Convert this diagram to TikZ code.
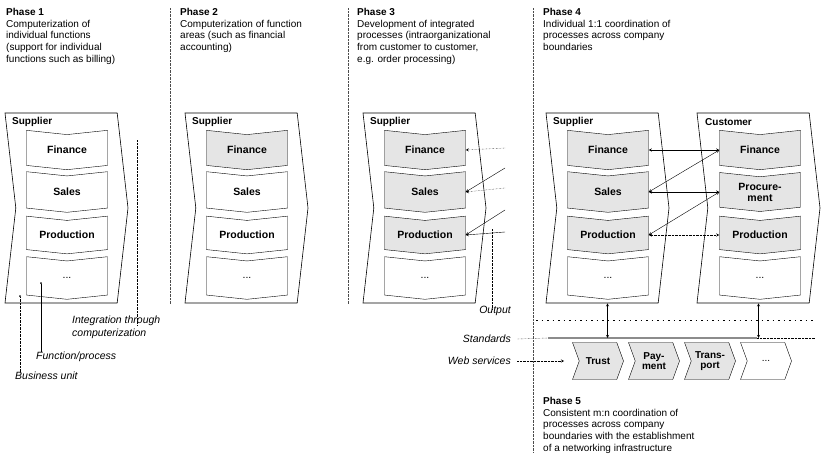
\documentclass[tikz,border=0pt]{standalone}
\usepackage{fontspec}
\setmainfont{Liberation Sans}
\usetikzlibrary{shapes.symbols,arrows}
\tikzstyle{phase}=[anchor=north west,align=left,inner sep=0pt,font=\fontsize{10}{11.7}\selectfont]
\tikzstyle{unit}=[draw,shape=signal,signal from=west,signal to=east,signal pointer angle=167,minimum width=123pt,minimum height=190pt,inner sep=0pt,line width=0.6pt]
\tikzstyle{owner}=[anchor=west,inner sep=0pt,font=\fontsize{10}{12}\selectfont\bfseries]
\tikzstyle{func}=[draw,shape=signal,signal from=north,signal to=south,signal pointer angle=168,minimum width=81pt,minimum height=35pt,inner sep=0pt,align=center,font=\fontsize{10.5}{11}\selectfont\bfseries]
\tikzstyle{service}=[draw,shape=signal,signal from=west,signal to=east,signal pointer angle=140,minimum width=51pt,minimum height=37pt,inner sep=0pt,align=center,font=\fontsize{10}{10.5}\selectfont\bfseries]
\tikzstyle{done}=[fill=black!10]
\tikzstyle{note}=[inner sep=0pt,align=left,font=\fontsize{10.5}{13}\selectfont\itshape]
\tikzstyle{tick}=[fill,shape=circle,minimum size=2pt,inner sep=0pt]
\tikzstyle{divider}=[densely dotted,black!70]

\begin{document}
\begin{tikzpicture}[x=1pt,y=-1pt,>=stealth]
\useasboundingbox (0,0) rectangle (821,466);
% phase headings
\node[phase] (Ph1) at (6,8) {\textbf{Phase 1}\\Computerization of\\individual functions\\(support for individual\\functions such as billing)};
\node[phase] (Ph2) at (180,8) {\textbf{Phase 2}\\Computerization of function\\areas (such as financial\\accounting)};
\node[phase] (Ph3) at (357,8) {\textbf{Phase 3}\\Development of integrated\\processes (intraorganizational\\from customer to customer,\\e.g. order processing)};
\node[phase] (Ph4) at (543,8) {\textbf{Phase 4}\\Individual 1:1 coordination of\\processes across company\\boundaries};
\node[phase] (Ph5) at (543,397) {\textbf{Phase 5}\\Consistent m:n coordination of\\processes across company\\boundaries with the establishment\\of a networking infrastructure};
% dividers
\coordinate (D1a) at (170,8);
\coordinate (D1b) at (170,304);
\coordinate (D2a) at (348,8);
\coordinate (D2b) at (348,304);
\coordinate (D3a) at (533,8);
\coordinate (D3b) at (533,452);
\draw[divider] (D1a) -- (D1b);
\draw[divider] (D2a) -- (D2b);
\draw[divider] (D3a) -- (D3b);
% phase 1
\node[unit] (Unit1) at (66.5,208) {};
\node[owner] (Sup1) at (12,122) {Supplier};
\node[func] (Fin1) at (67,150) {Finance};
\node[func] (Sal1) at (67,192) {Sales};
\node[func] (Pro1) at (67,235) {Production};
\node[func] (Etc1) at (67,278) {\mdseries ...};
% phase 2
\node[unit] (Unit2) at (246.5,208) {};
\node[owner] (Sup2) at (192,122) {Supplier};
\node[func, done] (Fin2) at (247,150) {Finance};
\node[func] (Sal2) at (247,192) {Sales};
\node[func] (Pro2) at (247,235) {Production};
\node[func] (Etc2) at (247,278) {\mdseries ...};
% phase 3
\node[unit] (Unit3) at (424.5,208) {};
\node[owner] (Sup3) at (370,122) {Supplier};
\node[func, done] (Fin3) at (425,150) {Finance};
\node[func, done] (Sal3) at (425,192) {Sales};
\node[func, done] (Pro3) at (425,235) {Production};
\node[func] (Etc3) at (425,278) {\mdseries ...};
% phase 4
\node[unit] (Unit4) at (607.5,208) {};
\node[owner] (Sup4) at (553,122) {Supplier};
\node[func, done] (Fin4) at (608,150) {Finance};
\node[func, done] (Sal4) at (608,192) {Sales};
\node[func, done] (Pro4) at (608,235) {Production};
\node[func] (Etc4) at (608,278) {\mdseries ...};
\node[unit] (Unit5) at (758.5,208) {};
\node[owner] (Cus5) at (705,122) {Customer};
\node[func, done] (CFin) at (760,150) {Finance};
\node[func, done] (CPcm) at (760,192) {Procure-\\ment};
\node[func, done] (CPro) at (760,235) {Production};
\node[func] (CEtc) at (760,278) {\mdseries ...};
% phase 5
\node[service, done] (Trust) at (598,361) {Trust};
\node[service, done] (Pay) at (654,361) {Pay-\\ment};
\node[service, done] (Trans) at (710,361) {Trans-\\port};
\node[service] (More) at (766,361) {\mdseries ...};
% phase 1 legend
\node[tick] (BUtop) at (20,296) {};
\node[note, anchor=north west] (BUlbl) at (15,372) {Business unit};
\node[tick] (FPtop) at (41,283) {};
\node[note, anchor=north west] (FPlbl) at (36,352) {Function/process};
\coordinate (INtop) at (137,140);
\node[note, anchor=north west] (INlbl) at (72,316) {Integration through\\computerization};
\draw[densely dotted] (BUtop) -- (BUtop |- BUlbl.north);
\draw (FPtop) -- (FPtop |- FPlbl.north);
\draw[densely dotted] (INtop) -- ([yshift=-10pt]INtop |- INlbl.north);
% phase 3 inputs
\coordinate (In1) at (505,148);
\coordinate (In2) at (505,168);
\coordinate (In3) at (505,188);
\coordinate (In4) at (505,210);
\coordinate (In5) at (505,232);
\draw[densely dotted,->] (In1) -- (Fin3.east);
\draw[->] (In2) -- (Sal3.east);
\draw[densely dotted,->] (In3) -- (Sal3.east);
\draw[->] (In4) -- (Pro3.east);
\draw[->] (In5) -- (Pro3.east);
% phase 4 links
\draw[<->] (Fin4.east) -- (CFin.west);
\draw[<->] (Sal4.east) -- (CFin.west);
\draw[<->] (Sal4.east) -- (CPcm.west);
\draw[<->] (Pro4.east) -- (CPcm.west);
\draw[<->,densely dotted] (Pro4.east) -- (CPro.west);
% output, standards, web services
\node[note, anchor=north east] (OutLbl) at (511,306) {Output};
\coordinate (OutTop) at (492,229);
\draw[densely dotted] (OutTop) -- ([yshift=-3pt]OutTop |- OutLbl.north);
\coordinate (OutA) at (536,320);
\coordinate (OutB) at (815,320);
\draw[dash pattern=on 1.5pt off 4pt] (OutA) -- (OutB);
\node[note, anchor=east] (StdLbl) at (511,339) {Standards};
\coordinate (StdA) at (548,338);
\coordinate (StdB) at (757,338);
\coordinate (StdC) at (815,338);
\draw[densely dotted] (StdLbl.east) ++(6,0) -- (StdA);
\draw[line width=2pt,black!45] (StdA) -- (StdB);
\draw[densely dotted] (StdB) -- (StdC);
\node[note, anchor=east] (WebLbl) at (511,361) {Web services};
\draw[densely dotted,->,shorten <=6pt,shorten >=15pt] (WebLbl.east) -- (Trust.west);
\draw[<->] (Unit4.south) -- (Unit4.south |- StdA);
\draw[<->] (Unit5.south) -- (Unit5.south |- StdA);
\end{tikzpicture}
\end{document}
